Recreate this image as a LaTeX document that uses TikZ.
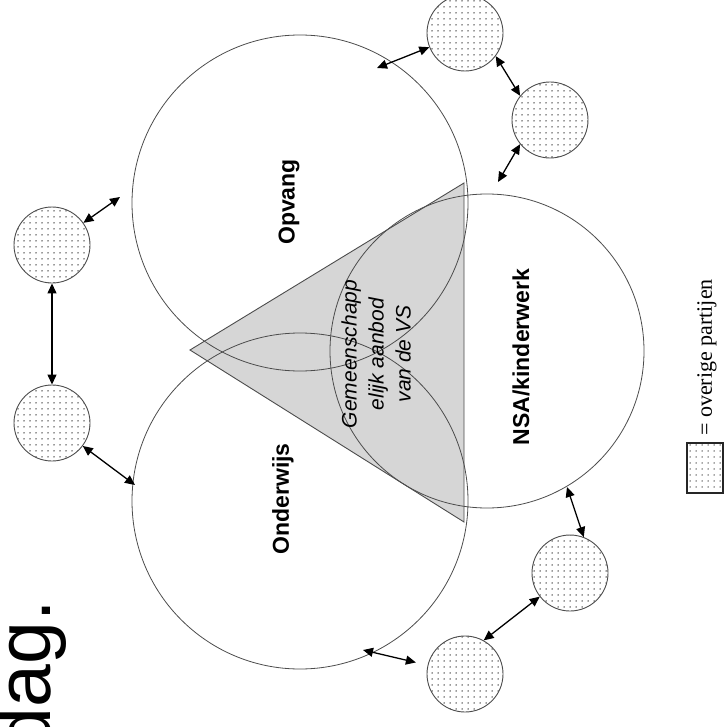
\documentclass[tikz,border=0pt]{standalone}
\usepackage{fontspec}
\setmainfont{Liberation Sans}
\newfontfamily\legfont{Liberation Serif}
\usetikzlibrary{arrows.meta,patterns.meta}
\begin{document}
\begin{tikzpicture}[x=1pt,y=-1pt,
 bigc/.style={circle,draw=black!70,line width=0.8pt,inner sep=0pt},
 smallc/.style={circle,draw=black!70,line width=0.9pt,inner sep=0pt,minimum size=76pt,
   pattern={Dots[distance=6pt,radius=0.75pt]},pattern color=black!80},
 dbl/.style={line width=1.3pt,{Triangle[length=10pt,width=9pt]}-{Triangle[length=10pt,width=9pt]}},
 lbl/.style={font=\fontsize{23}{26}\selectfont\bfseries,rotate=90,inner sep=0pt},
]
\clip (0,0) rectangle (725,727);
% shared-offer triangle
\coordinate (t1) at (190,350);
\coordinate (t2) at (464,183);
\coordinate (t3) at (464,522);
\filldraw[fill=black!16,draw=black!70,line width=0.9pt] (t1) -- (t2) -- (t3) -- cycle;
% big circles
\node[bigc,minimum size=336pt] (opv) at (300,203) {};
\node[bigc,minimum size=336pt] (ond) at (300,501) {};
\node[bigc,minimum size=314pt] (nsa) at (487,351) {};
% labels
\node[lbl] (opvL) at (289,202) {Opvang};
\node[lbl] (ondL) at (283,499) {Onderwijs};
\node[lbl] (nsaL) at (521,357) {NSA/kinderwerk};
\node[rotate=90,align=center,inner sep=0pt,font=\fontsize{21}{27}\selectfont\itshape] (gem) at (376,354)
  {Gemeenschapp\\elijk aanbod\\van de VS};
% small circles
\node[smallc] (scA) at (52,245) {};
\node[smallc] (scB) at (52,423) {};
\node[smallc] (scC) at (465,33) {};
\node[smallc] (scD) at (550,120) {};
\node[smallc] (scE) at (570,573) {};
\node[smallc] (scF) at (465,674) {};
% free ends on the big circles
\coordinate (pA) at (120,197);
\coordinate (pB) at (135,485);
\coordinate (pC) at (377,68);
\coordinate (pD) at (498,182);
\coordinate (pE) at (567,487);
\coordinate (pF) at (363,650);
% arrows
\draw[dbl] (scA) -- (pA);
\draw[dbl] (scA) -- (scB);
\draw[dbl] (scB) -- (pB);
\draw[dbl] (scC) -- (pC);
\draw[dbl] (scC.-37) -- (scD.141);
\draw[dbl] (scD.219) -- (pD);
\draw[dbl] (pE) -- (scE.69);
\draw[dbl] (scE.218) -- (scF.61);
\draw[dbl,shorten >=12pt] (pF) -- (scF);
% legend
\node[draw=black!85,line width=1.2pt,inner sep=0pt,minimum width=36pt,minimum height=50pt,
  pattern={Dots[distance=6pt,radius=0.75pt]},pattern color=black!70] (leg) at (705,468) {};
\node[rotate=90,anchor=west,font=\legfont\fontsize{22}{24}\selectfont,inner sep=0pt] (legT) at (707,436) {= overige partijen};
% large caption fragment
\node[rotate=90,anchor=base east,font=\fontsize{77}{80}\selectfont,inner sep=0pt] (cap) at (50,600) {dag.};
\end{tikzpicture}
\end{document}
